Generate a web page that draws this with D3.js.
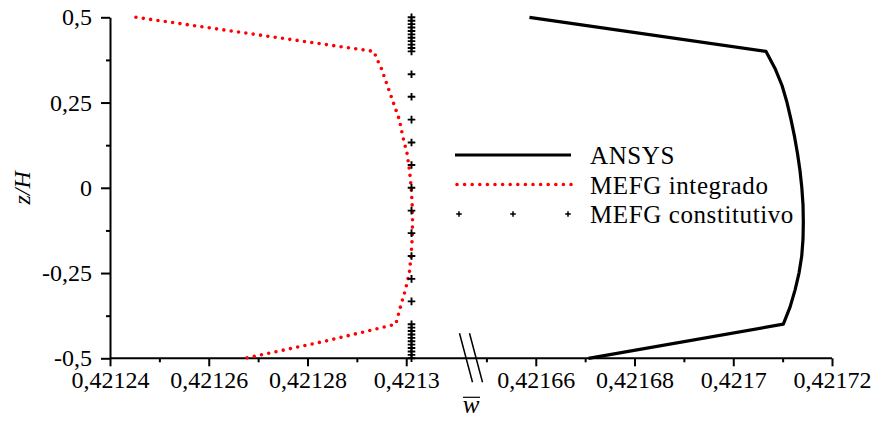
<!DOCTYPE html>
<html>
<head>
<meta charset="utf-8">
<script src="https://cdn.jsdelivr.net/npm/d3@7"></script>
<style>
  body { margin: 0; background: #fff; }
  text { font-family: "Liberation Serif", "Times New Roman", serif; fill: #000; }
</style>
</head>
<body>
<div id="chart"></div>
<script>
// z/H positions and ticks
const zTicks = [0.5, 0.25, 0, -0.25, -0.5];
const zMinor = [0.375, 0.125, -0.125, -0.375];

// broken w axis: left and right pieces
const wTicksLeft = [0.42124, 0.42126, 0.42128, 0.4213];
const wMinorLeft = [0.42125, 0.42127, 0.42129];
const wTicksRight = [0.42166, 0.42168, 0.4217, 0.42172];
const wMinorRight = [0.42165, 0.42167, 0.42169, 0.42171];

// ANSYS
const zAnsys = [0.5, 0.4, 0.35, 0.3, 0.25, 0.2, 0.15, 0.1, 0.05, 0, -0.05, -0.1, -0.15, -0.2, -0.25, -0.3, -0.35, -0.4, -0.5];
const wAnsys = [0.42165872, 0.42170664, 0.42170846, 0.42170988, 0.42171089, 0.4217117, 0.42171241, 0.42171302, 0.42171352, 0.42171389,
  0.42171413, 0.42171419, 0.42171413, 0.42171387, 0.42171332, 0.42171251, 0.4217115, 0.42171014, 0.42167067];

// MEFG integrado
const zIntegrado = [0.5, 0.4, 0.375, 0.35, 0.3, 0.25, 0.2, 0.15, 0.1, 0.05, 0, -0.05, -0.1, -0.15, -0.2, -0.25, -0.3, -0.35, -0.4, -0.45, -0.5];
const wIntegrado = [0.42124526, 0.42129344, 0.42129415, 0.42129496, 0.42129618, 0.42129739, 0.4212986, 0.42129931, 0.42130018, 0.42130067, 0.42130101,
  0.42130121, 0.42130128, 0.42130121, 0.42130097, 0.42130063, 0.42129982, 0.42129881, 0.42129789, 0.42128352, 0.42126733];

// MEFG constitutivo
const zConstitutivo = [0.5, 0.49, 0.48, 0.47, 0.46, 0.45, 0.44, 0.43, 0.42, 0.41, 0.4,
  0.333, 0.267, 0.2, 0.133, 0.067, 0, -0.067, -0.133, -0.2, -0.267, -0.333,
  -0.4, -0.41, -0.42, -0.43, -0.44, -0.45, -0.46, -0.47, -0.48, -0.49, -0.5];
const wConstitutivo = zConstitutivo.map(() => 0.42130107);

const seriesNames = ["ANSYS", "MEFG integrado", "MEFG constitutivo"];

// Set dimensions
const margin = { top: 17.3, right: 42, bottom: 69.7, left: 110 };
const width = 722;
const height = 341;
const fontSize = 24;

const svg = d3
  .select("#chart")
  .append("svg")
  .attr("width", width + margin.left + margin.right)
  .attr("height", height + margin.top + margin.bottom)
  .append("g")
  .attr("transform", `translate(${margin.left},${margin.top})`);

// Scales (two pieces with the same px per unit)
const xLeft = d3.scaleLinear().domain([0.42124, 0.4213115]).range([0, 353]);
const xRight = d3.scaleLinear().domain([0.4216485, 0.42172]).range([369, width]);
const x = (w) => (w < 0.4214 ? xLeft(w) : xRight(w));
const y = d3.scaleLinear().domain([-0.5, 0.5]).range([height, 0]);

const fmt = d3.formatLocale({ decimal: ",", thousands: ".", grouping: [3], currency: ["", ""], minus: "-" }).format("~g");

// x axis pieces
function bottomAxis(scale, major, minor) {
  const g = svg.append("g").attr("transform", `translate(0,${height})`);
  g.append("g")
    .call(d3.axisBottom(scale).tickValues(minor).tickSize(4).tickFormat(""))
    .call((a) => a.select(".domain").remove());
  g.append("g")
    .call(d3.axisBottom(scale).tickValues(major).tickSize(8).tickPadding(5).tickFormat(fmt))
    .call((a) => a.select(".domain").remove());
  g.selectAll("line").attr("stroke-width", 2);
  g.selectAll("text").style("font-size", fontSize + "px");
}
bottomAxis(xLeft, wTicksLeft, wMinorLeft);
bottomAxis(xRight, wTicksRight, wMinorRight);

svg.append("line")
  .attr("x1", 0).attr("x2", width)
  .attr("y1", height).attr("y2", height)
  .attr("stroke", "#000").attr("stroke-width", 2);

// axis break marks
const bx = (xLeft.range()[1] + xRight.range()[0]) / 2;
[-5, 5].forEach((o) => {
  svg.append("line")
    .attr("x1", bx + o - 6.5).attr("y1", height - 25)
    .attr("x2", bx + o + 6.5).attr("y2", height + 24)
    .attr("stroke", "#000").attr("stroke-width", 1.5);
});

// y axis
const yAxis = svg.append("g");
yAxis.append("g")
  .call(d3.axisLeft(y).tickValues(zMinor).tickSize(4).tickFormat(""))
  .call((a) => a.select(".domain").remove());
yAxis.append("g")
  .call(d3.axisLeft(y).tickValues(zTicks).tickSize(9).tickPadding(9).tickSizeOuter(0).tickFormat(fmt));
yAxis.selectAll("line, path").attr("stroke-width", 2);
yAxis.selectAll("text").style("font-size", fontSize + "px");

// ANSYS line
const lineGen = d3.line().x((d) => x(d[1])).y((d) => y(d[0]));
svg.append("path")
  .datum(d3.zip(zAnsys, wAnsys))
  .attr("fill", "none")
  .attr("stroke", "#000")
  .attr("stroke-width", 3.2)
  .attr("stroke-linejoin", "round")
  .attr("d", lineGen);

// MEFG integrado (dotted red)
svg.append("path")
  .datum(d3.zip(zIntegrado, wIntegrado))
  .attr("fill", "none")
  .attr("stroke", "#ff0000")
  .attr("stroke-width", 3.6)
  .attr("stroke-linecap", "round")
  .attr("stroke-dasharray", "0 7.4")
  .attr("d", lineGen);

// MEFG constitutivo crosses
const cross = (s) => `M${-s},0H${s}M0,${-s}V${s}`;
svg.append("g")
  .selectAll("path")
  .data(d3.zip(zConstitutivo, wConstitutivo))
  .join("path")
  .attr("transform", (d) => `translate(${x(d[1])},${y(d[0])})`)
  .attr("d", cross(3.8))
  .attr("stroke", "#000")
  .attr("stroke-width", 1.9);

// Legend
const legend = svg.append("g").attr("transform", "translate(345,137.7)");
const rowGap = 29.5;
legend.append("line")
  .attr("x1", 0).attr("x2", 116).attr("y1", 0).attr("y2", 0)
  .attr("stroke", "#000").attr("stroke-width", 3.2);
legend.append("line")
  .attr("x1", 2).attr("x2", 116).attr("y1", rowGap).attr("y2", rowGap)
  .attr("stroke", "#ff0000").attr("stroke-width", 3.6)
  .attr("stroke-linecap", "round").attr("stroke-dasharray", "0 7.6");
legend.selectAll(".lc")
  .data([4, 58, 113])
  .join("path")
  .attr("transform", (d) => `translate(${d},${2 * rowGap})`)
  .attr("d", cross(2.8))
  .attr("stroke", "#000")
  .attr("stroke-width", 1.5);
legend.selectAll("text")
  .data(seriesNames)
  .join("text")
  .attr("x", 135)
  .attr("y", (d, i) => i * rowGap)
  .attr("dy", "0.36em")
  .style("font-size", "25px")
  .style("letter-spacing", "0.6px")
  .text((d) => d);

// Axis titles
svg.append("text")
  .attr("transform", `translate(${-88},${height / 2}) rotate(-90)`)
  .attr("text-anchor", "middle")
  .attr("dy", "0.35em")
  .style("font-size", fontSize + "px")
  .style("font-style", "italic")
  .text("z/H");

const wTitle = svg.append("g").attr("transform", `translate(${bx},${height + 55})`);
wTitle.append("text")
  .attr("text-anchor", "middle")
  .style("font-size", "25px")
  .style("font-style", "italic")
  .text("w");
wTitle.append("line")
  .attr("x1", -8).attr("x2", 9).attr("y1", -16).attr("y2", -16)
  .attr("stroke", "#000").attr("stroke-width", 1.2);
</script>
</body>
</html>
